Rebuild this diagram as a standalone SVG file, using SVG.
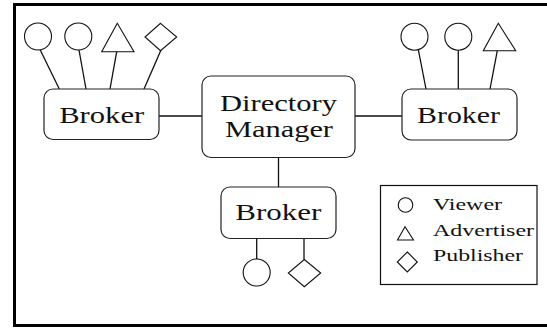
<svg xmlns="http://www.w3.org/2000/svg" width="547" height="331" viewBox="0 0 547 331">
<style>
.frame{fill:none;stroke:#000;stroke-width:3}
.box{fill:#fff;stroke:#222;stroke-width:1.2}
.sym{fill:#fff;stroke:#111;stroke-width:1.1}
.ln{stroke:#111;stroke-width:1.3;fill:none}
.t{font-family:"Liberation Serif","Times New Roman",serif;font-size:23px;fill:#111;text-anchor:middle}
.lt{font-family:"Liberation Serif","Times New Roman",serif;font-size:16px;fill:#111}
</style>
<rect x="0" y="0" width="547" height="331" fill="#fff"/>
<path class="frame" d="M560 4.5 H14.5 V325.5 H560"/>
<g id="connectors">
<line class="ln" x1="159" y1="116" x2="202" y2="116"/>
<line class="ln" x1="355" y1="116" x2="402" y2="116"/>
<line class="ln" x1="278.5" y1="157.5" x2="278.5" y2="187"/>
<line class="ln" x1="40" y1="49.5" x2="59.3" y2="89"/>
<line class="ln" x1="79" y1="50" x2="86" y2="89"/>
<line class="ln" x1="116.7" y1="51.7" x2="110" y2="89"/>
<line class="ln" x1="161" y1="50" x2="144" y2="89"/>
<line class="ln" x1="418.3" y1="49.5" x2="426" y2="89"/>
<line class="ln" x1="458.3" y1="50" x2="458.3" y2="89"/>
<line class="ln" x1="497.3" y1="50.7" x2="490" y2="89"/>
<line class="ln" x1="256.7" y1="238.5" x2="256.7" y2="259"/>
<line class="ln" x1="304" y1="238.5" x2="304" y2="259.5"/>
</g>
<g id="viewer-l1"><circle class="sym" cx="38" cy="36.5" r="13.5"/></g>
<g id="viewer-l2"><circle class="sym" cx="78.3" cy="36.5" r="13.5"/></g>
<g id="advertiser-l"><polygon class="sym" points="117.3,23.3 101.7,51.7 134,51.7"/></g>
<g id="publisher-l"><polygon class="sym" points="160.5,23.3 176.7,37 160.5,50.7 145,37"/></g>
<g id="viewer-r1"><circle class="sym" cx="414.5" cy="36.7" r="13.5"/></g>
<g id="viewer-r2"><circle class="sym" cx="458.3" cy="36.7" r="13.5"/></g>
<g id="advertiser-r"><polygon class="sym" points="498.3,23.3 483.3,50.7 515.7,50.7"/></g>
<g id="viewer-b"><circle class="sym" cx="256.7" cy="272.5" r="13.5"/></g>
<g id="publisher-b"><polygon class="sym" points="304.3,259.5 320.7,273 304.3,286.7 288.3,273"/></g>
<g id="broker-left">
<rect class="box" x="44" y="89" width="115" height="50.5" rx="9"/>
<text class="t" x="101.7" y="122.7" textLength="85" lengthAdjust="spacingAndGlyphs">Broker</text>
</g>
<g id="directory-manager">
<rect class="box" x="202" y="76" width="153" height="81.5" rx="9"/>
<text class="t" x="278.5" y="110.7" textLength="117" lengthAdjust="spacingAndGlyphs">Directory</text>
<text class="t" x="279" y="136.5" textLength="108" lengthAdjust="spacingAndGlyphs">Manager</text>
</g>
<g id="broker-right">
<rect class="box" x="402" y="89" width="115" height="51" rx="9"/>
<text class="t" x="458.5" y="122.7" textLength="83" lengthAdjust="spacingAndGlyphs">Broker</text>
</g>
<g id="broker-bottom">
<rect class="box" x="221" y="187" width="115" height="51.5" rx="9"/>
<text class="t" x="278.3" y="220" textLength="86" lengthAdjust="spacingAndGlyphs">Broker</text>
</g>
<g id="legend">
<rect x="380.5" y="185.5" width="156.5" height="99" fill="#fff" stroke="#111" stroke-width="1.2"/>
<circle class="sym" cx="405.5" cy="205" r="7.3"/>
<polygon class="sym" points="405,226.7 397.5,240 413.5,240"/>
<polygon class="sym" points="407.3,252 417.3,262 407.3,272 397.3,262"/>
<text class="lt" x="433" y="210" textLength="69" lengthAdjust="spacingAndGlyphs">Viewer</text>
<text class="lt" x="433" y="235.5" textLength="101" lengthAdjust="spacingAndGlyphs">Advertiser</text>
<text class="lt" x="433" y="261" textLength="90" lengthAdjust="spacingAndGlyphs">Publisher</text>
</g>
</svg>
